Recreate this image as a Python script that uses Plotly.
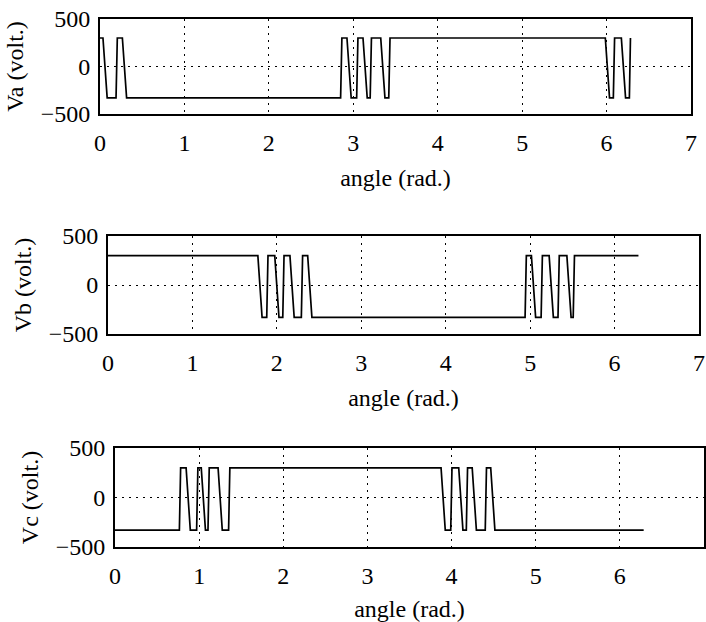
import plotly.graph_objects as go
from plotly.subplots import make_subplots

# Phase voltage waveforms (polyline vertices: angle in rad, voltage in V)
va_angle = [0, 0.035, 0.085, 0.19, 0.205, 0.265, 0.315, 2.85, 2.865, 2.925, 2.975,
            3.04, 3.055, 3.115, 3.165, 3.20, 3.215, 3.325, 3.375, 3.42, 3.435,
            5.985, 6.035, 6.08, 6.095, 6.175, 6.225, 6.27, 6.283]
va_volt = [300, 300, -330, -330, 300, 300, -330, -330, 300, 300, -330,
           -330, 300, 300, -330, -330, 300, 300, -330, -330, 300,
           300, -330, -330, 300, 300, -330, -330, 300]

vb_angle = [0, 1.775, 1.825, 1.88, 1.895, 1.975, 2.025, 2.07, 2.085, 2.155, 2.205,
            2.29, 2.305, 2.365, 2.415, 4.94, 4.955, 5.015, 5.065, 5.13, 5.145,
            5.225, 5.275, 5.33, 5.345, 5.435, 5.485, 5.51, 5.525, 6.283]
vb_volt = [300, 300, -330, -330, 300, 300, -330, -330, 300, 300, -330,
           -330, 300, 300, -330, -330, 300, 300, -330, -330, 300,
           300, -330, -330, 300, 300, -330, -330, 300, 300]

vc_angle = [0, 0.765, 0.78, 0.845, 0.895, 0.97, 0.985, 1.025, 1.075, 1.105, 1.12,
            1.225, 1.275, 1.35, 1.365, 3.875, 3.925, 3.99, 4.005, 4.085, 4.135,
            4.175, 4.19, 4.245, 4.295, 4.40, 4.415, 4.465, 4.515, 6.283]
vc_volt = [-330, -330, 300, 300, -330, -330, 300, 300, -330, -330, 300,
           300, -330, -330, 300, 300, -330, -330, 300, 300, -330,
           -330, 300, 300, -330, -330, 300, 300, -330, -330]

x_ticks = [0, 1, 2, 3, 4, 5, 6, 7]
y_ticks = [-500, 0, 500]
y_titles = ["Va (volt.)", "Vb (volt.)", "Vc (volt.)"]
x_title = "angle (rad.)"

W, H = 706, 622
# plot frames in pixels: (left, right, top, bottom)
frames = [(100, 691, 19, 114), (108, 699, 236, 334), (115, 704, 448, 547)]

fig = make_subplots(rows=3, cols=1)
series = [(va_angle, va_volt), (vb_angle, vb_volt), (vc_angle, vc_volt)]
for i, (xs, ys) in enumerate(series, start=1):
    fig.add_trace(go.Scatter(x=xs, y=ys, mode="lines",
                             line=dict(color="black", width=1.7),
                             showlegend=False, hoverinfo="skip"), row=i, col=1)

font = dict(family="Liberation Serif, Times New Roman, serif", size=24, color="black")
for i, (l, r, t, b) in enumerate(frames, start=1):
    xd = [l / W, r / W]
    yd = [1 - b / H, 1 - t / H]
    fig.update_xaxes(row=i, col=1, domain=xd, range=[0, 7], tickvals=x_ticks,
                     ticks="", showline=True, mirror=True, linecolor="black", linewidth=1.8,
                     showgrid=True, gridcolor="black", gridwidth=1.4, griddash="2px,5px",
                     zeroline=False, tickfont=font, ticklabelstandoff=6,
                     title=dict(text=x_title, font=font, standoff=14), automargin=False)
    fig.update_yaxes(row=i, col=1, domain=yd, range=[-500, 500], tickvals=y_ticks,
                     ticks="", showline=True, mirror=True, linecolor="black", linewidth=1.8,
                     showgrid=True, gridcolor="black", gridwidth=1.4, griddash="2px,5px",
                     zeroline=False, tickfont=font, ticklabelstandoff=3,
                     title=dict(text=y_titles[i - 1], font=font, standoff=10), automargin=False)

fig.update_layout(width=W, height=H, margin=dict(l=0, r=0, t=0, b=0),
                  paper_bgcolor="white", plot_bgcolor="white", font=font)

fig.write_html("out.html")
